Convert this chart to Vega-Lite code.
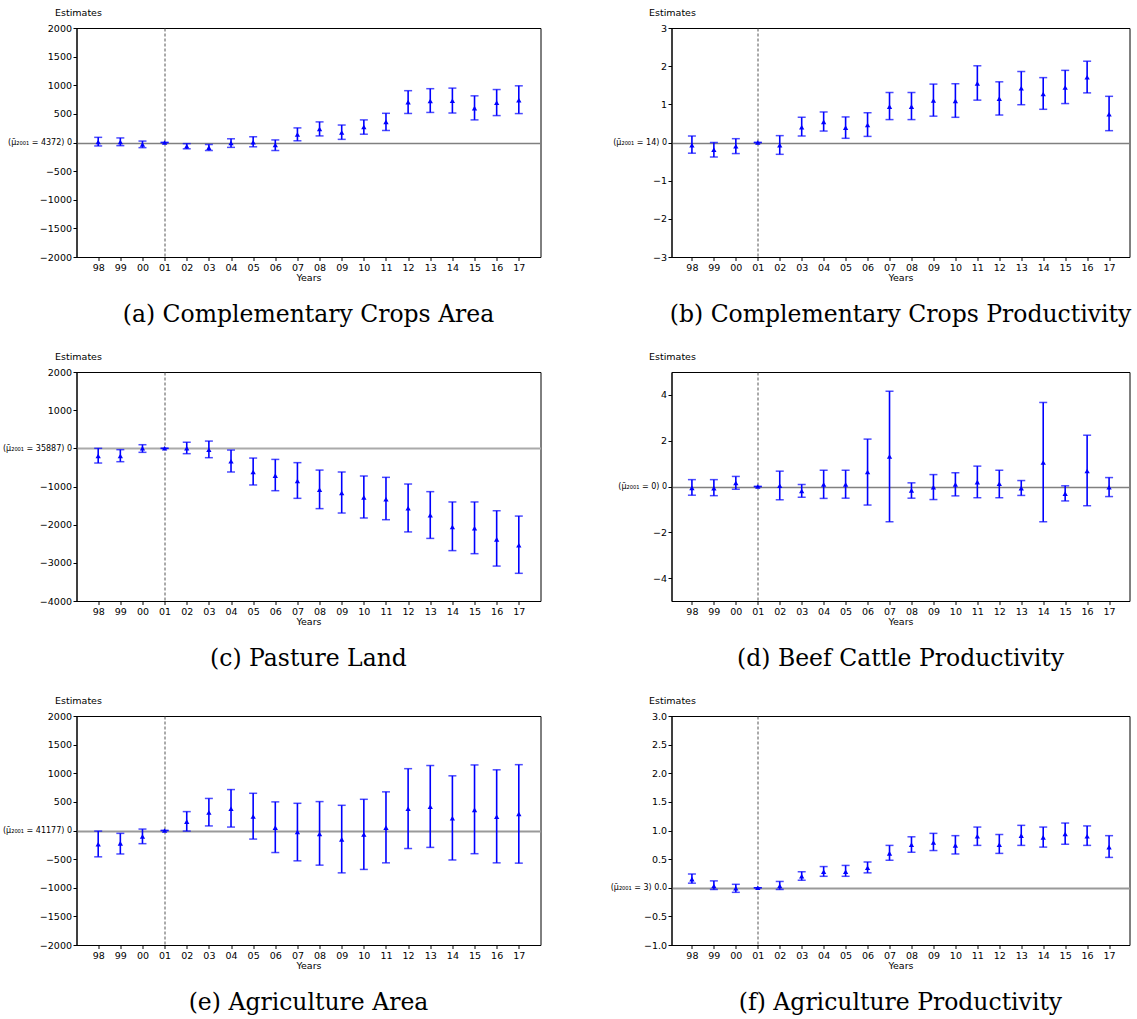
{
  "$schema": "https://vega.github.io/schema/vega-lite/v6.json",
  "padding": {"left": 1.5, "top": 6, "right": 0, "bottom": 0},
  "background": "white",
  "config": {
    "view": {"stroke": "black", "strokeWidth": 1},
    "axis": {"labelFont": "DejaVu Sans", "labelFontSize": 9.5, "labelColor": "black", "titleFont": "DejaVu Sans", "titleFontSize": 9.5, "titleFontWeight": "normal", "titleColor": "black", "domainColor": "black", "tickColor": "black", "tickSize": 3.5, "labelPadding": 1.5, "labelOverlap": false},
    "axisY": {"labelOverlap": false, "labelBound": false, "tickCount": 20},
    "title": {"font": "DejaVu Serif", "fontSize": 23.5, "fontWeight": "normal", "color": "black"}
  },
  "data": {"values": [
    {"p":"a","yr":"98","est":10,"lo":-60,"hi":90},
    {"p":"a","yr":"99","est":10,"lo":-55,"hi":80},
    {"p":"a","yr":"00","est":-35,"lo":-90,"hi":25},
    {"p":"a","yr":"01","est":0,"lo":0,"hi":0},
    {"p":"a","yr":"02","est":-65,"lo":-110,"hi":-20},
    {"p":"a","yr":"03","est":-90,"lo":-140,"hi":-35},
    {"p":"a","yr":"04","est":-10,"lo":-85,"hi":65},
    {"p":"a","yr":"05","est":5,"lo":-75,"hi":100},
    {"p":"a","yr":"06","est":-45,"lo":-140,"hi":45},
    {"p":"a","yr":"07","est":140,"lo":30,"hi":255},
    {"p":"a","yr":"08","est":235,"lo":115,"hi":360},
    {"p":"a","yr":"09","est":175,"lo":55,"hi":305},
    {"p":"a","yr":"10","est":270,"lo":145,"hi":395},
    {"p":"a","yr":"11","est":360,"lo":210,"hi":510},
    {"p":"a","yr":"12","est":705,"lo":507,"hi":905},
    {"p":"a","yr":"13","est":725,"lo":525,"hi":940},
    {"p":"a","yr":"14","est":730,"lo":515,"hi":950},
    {"p":"a","yr":"15","est":600,"lo":395,"hi":815},
    {"p":"a","yr":"16","est":695,"lo":470,"hi":925},
    {"p":"a","yr":"17","est":740,"lo":505,"hi":990},

    {"p":"b","yr":"98","est":-0.07,"lo":-0.28,"hi":0.17},
    {"p":"b","yr":"99","est":-0.19,"lo":-0.38,"hi":0.0},
    {"p":"b","yr":"00","est":-0.1,"lo":-0.29,"hi":0.1},
    {"p":"b","yr":"01","est":0,"lo":0,"hi":0},
    {"p":"b","yr":"02","est":-0.07,"lo":-0.31,"hi":0.18},
    {"p":"b","yr":"03","est":0.4,"lo":0.17,"hi":0.66},
    {"p":"b","yr":"04","est":0.54,"lo":0.3,"hi":0.8},
    {"p":"b","yr":"05","est":0.39,"lo":0.11,"hi":0.67},
    {"p":"b","yr":"06","est":0.46,"lo":0.16,"hi":0.78},
    {"p":"b","yr":"07","est":0.94,"lo":0.6,"hi":1.31},
    {"p":"b","yr":"08","est":0.94,"lo":0.6,"hi":1.31},
    {"p":"b","yr":"09","est":1.1,"lo":0.69,"hi":1.53},
    {"p":"b","yr":"10","est":1.09,"lo":0.66,"hi":1.54},
    {"p":"b","yr":"11","est":1.55,"lo":1.11,"hi":2.01},
    {"p":"b","yr":"12","est":1.15,"lo":0.72,"hi":1.59},
    {"p":"b","yr":"13","est":1.42,"lo":0.99,"hi":1.86},
    {"p":"b","yr":"14","est":1.27,"lo":0.87,"hi":1.7},
    {"p":"b","yr":"15","est":1.44,"lo":1.02,"hi":1.89},
    {"p":"b","yr":"16","est":1.71,"lo":1.3,"hi":2.13},
    {"p":"b","yr":"17","est":0.74,"lo":0.31,"hi":1.21},

    {"p":"c","yr":"98","est":-200,"lo":-385,"hi":0},
    {"p":"c","yr":"99","est":-200,"lo":-350,"hi":-35},
    {"p":"c","yr":"00","est":0,"lo":-105,"hi":95},
    {"p":"c","yr":"01","est":0,"lo":0,"hi":0},
    {"p":"c","yr":"02","est":0,"lo":-140,"hi":160},
    {"p":"c","yr":"03","est":-35,"lo":-245,"hi":190},
    {"p":"c","yr":"04","est":-340,"lo":-620,"hi":-45},
    {"p":"c","yr":"05","est":-620,"lo":-960,"hi":-255},
    {"p":"c","yr":"06","est":-715,"lo":-1110,"hi":-290},
    {"p":"c","yr":"07","est":-855,"lo":-1310,"hi":-375},
    {"p":"c","yr":"08","est":-1085,"lo":-1580,"hi":-570},
    {"p":"c","yr":"09","est":-1170,"lo":-1695,"hi":-620},
    {"p":"c","yr":"10","est":-1285,"lo":-1825,"hi":-725},
    {"p":"c","yr":"11","est":-1335,"lo":-1870,"hi":-760},
    {"p":"c","yr":"12","est":-1570,"lo":-2190,"hi":-935},
    {"p":"c","yr":"13","est":-1755,"lo":-2360,"hi":-1135},
    {"p":"c","yr":"14","est":-2060,"lo":-2680,"hi":-1405},
    {"p":"c","yr":"15","est":-2095,"lo":-2760,"hi":-1405},
    {"p":"c","yr":"16","est":-2385,"lo":-3085,"hi":-1635},
    {"p":"c","yr":"17","est":-2540,"lo":-3275,"hi":-1775},

    {"p":"d","yr":"98","est":-0.06,"lo":-0.38,"hi":0.3},
    {"p":"d","yr":"99","est":-0.07,"lo":-0.4,"hi":0.3},
    {"p":"d","yr":"00","est":0.15,"lo":-0.12,"hi":0.44},
    {"p":"d","yr":"01","est":0,"lo":0,"hi":0},
    {"p":"d","yr":"02","est":0.03,"lo":-0.58,"hi":0.67},
    {"p":"d","yr":"03","est":-0.2,"lo":-0.47,"hi":0.09},
    {"p":"d","yr":"04","est":0.09,"lo":-0.52,"hi":0.71},
    {"p":"d","yr":"05","est":0.09,"lo":-0.51,"hi":0.71},
    {"p":"d","yr":"06","est":0.63,"lo":-0.81,"hi":2.07},
    {"p":"d","yr":"07","est":1.31,"lo":-1.54,"hi":4.16},
    {"p":"d","yr":"08","est":-0.17,"lo":-0.51,"hi":0.16},
    {"p":"d","yr":"09","est":-0.03,"lo":-0.57,"hi":0.52},
    {"p":"d","yr":"10","est":0.09,"lo":-0.41,"hi":0.6},
    {"p":"d","yr":"11","est":0.19,"lo":-0.49,"hi":0.89},
    {"p":"d","yr":"12","est":0.12,"lo":-0.49,"hi":0.71},
    {"p":"d","yr":"13","est":-0.07,"lo":-0.39,"hi":0.26},
    {"p":"d","yr":"14","est":1.05,"lo":-1.54,"hi":3.67},
    {"p":"d","yr":"15","est":-0.31,"lo":-0.63,"hi":0.03},
    {"p":"d","yr":"16","est":0.68,"lo":-0.84,"hi":2.24},
    {"p":"d","yr":"17","est":-0.03,"lo":-0.44,"hi":0.39},

    {"p":"e","yr":"98","est":-240,"lo":-460,"hi":-10},
    {"p":"e","yr":"99","est":-225,"lo":-410,"hi":-50},
    {"p":"e","yr":"00","est":-105,"lo":-230,"hi":25},
    {"p":"e","yr":"01","est":0,"lo":0,"hi":0},
    {"p":"e","yr":"02","est":155,"lo":-10,"hi":330},
    {"p":"e","yr":"03","est":315,"lo":80,"hi":560},
    {"p":"e","yr":"04","est":380,"lo":60,"hi":715},
    {"p":"e","yr":"05","est":245,"lo":-150,"hi":650},
    {"p":"e","yr":"06","est":50,"lo":-385,"hi":500},
    {"p":"e","yr":"07","est":-25,"lo":-530,"hi":475},
    {"p":"e","yr":"08","est":-60,"lo":-605,"hi":505},
    {"p":"e","yr":"09","est":-155,"lo":-740,"hi":440},
    {"p":"e","yr":"10","est":-70,"lo":-680,"hi":545},
    {"p":"e","yr":"11","est":50,"lo":-565,"hi":675},
    {"p":"e","yr":"12","est":380,"lo":-315,"hi":1080},
    {"p":"e","yr":"13","est":415,"lo":-295,"hi":1135},
    {"p":"e","yr":"14","est":215,"lo":-515,"hi":955},
    {"p":"e","yr":"15","est":360,"lo":-405,"hi":1145},
    {"p":"e","yr":"16","est":240,"lo":-565,"hi":1060},
    {"p":"e","yr":"17","est":290,"lo":-570,"hi":1150},

    {"p":"f","yr":"98","est":0.15,"lo":0.08,"hi":0.24},
    {"p":"f","yr":"99","est":0.03,"lo":-0.03,"hi":0.12},
    {"p":"f","yr":"00","est":-0.01,"lo":-0.08,"hi":0.06},
    {"p":"f","yr":"01","est":0,"lo":0,"hi":0},
    {"p":"f","yr":"02","est":0.03,"lo":-0.03,"hi":0.11},
    {"p":"f","yr":"03","est":0.2,"lo":0.13,"hi":0.28},
    {"p":"f","yr":"04","est":0.28,"lo":0.2,"hi":0.37},
    {"p":"f","yr":"05","est":0.28,"lo":0.2,"hi":0.39},
    {"p":"f","yr":"06","est":0.35,"lo":0.26,"hi":0.45},
    {"p":"f","yr":"07","est":0.6,"lo":0.48,"hi":0.74},
    {"p":"f","yr":"08","est":0.75,"lo":0.62,"hi":0.89},
    {"p":"f","yr":"09","est":0.79,"lo":0.65,"hi":0.95},
    {"p":"f","yr":"10","est":0.74,"lo":0.59,"hi":0.91},
    {"p":"f","yr":"11","est":0.9,"lo":0.74,"hi":1.06},
    {"p":"f","yr":"12","est":0.75,"lo":0.6,"hi":0.93},
    {"p":"f","yr":"13","est":0.91,"lo":0.74,"hi":1.09},
    {"p":"f","yr":"14","est":0.88,"lo":0.71,"hi":1.06},
    {"p":"f","yr":"15","est":0.94,"lo":0.76,"hi":1.13},
    {"p":"f","yr":"16","est":0.9,"lo":0.74,"hi":1.08},
    {"p":"f","yr":"17","est":0.71,"lo":0.53,"hi":0.91}
  ]},
  "columns": 2,
  "spacing": {"row": 115, "column": 131},
  "bounds": "flush",
  "concat": [
      {
        "width": 464, "height": 229,
        "title": {"text": "(a) Complementary Crops Area", "orient": "bottom", "anchor": "middle", "offset": 21},
        "transform": [{"filter": "datum.p === 'a'"}],
        "encoding": {"x": {"field": "yr", "type": "ordinal", "scale": {"type": "point", "domain": ["98","99","00","01","02","03","04","05","06","07","08","09","10","11","12","13","14","15","16","17"], "padding": 0.98}, "axis": {"title": "Years", "labelAngle": 0, "titlePadding": 1, "grid": true, "gridColor": {"condition": {"test": "datum.value === '01'", "value": "#555555"}, "value": "transparent"}, "gridDash": [3, 2], "gridWidth": 1}}},
        "layer": [
          {"mark": {"type": "rule", "color": "blue", "strokeWidth": 1.6}, "encoding": {"y": {"field": "lo", "type": "quantitative", "scale": {"domain": [-2000, 2000], "nice": false, "zero": false}, "axis": {"title": "Estimates", "titleAngle": 0, "titleAlign": "left", "titleBaseline": "alphabetic", "titleX": -22, "titleY": -13, "values": [-2000,-1500,-1000,-500,0,500,1000,1500,2000], "tickCount": 20, "labelOverlap": false, "format": "d", "labelExpr": "datum.value === 0 ? '(μ̄₂₀₀₁ = 4372) 0' : datum.label", "labelFontSize": {"condition": {"test": "datum.value === 0", "value": 8}, "value": 9.5}, "grid": true, "gridColor": {"condition": {"test": "datum.value === 0", "value": "#808080"}, "value": "transparent"}, "gridWidth": 1.5}}, "y2": {"field": "hi"}}},
          {"mark": {"type": "tick", "color": "blue", "size": 8, "thickness": 1.5}, "encoding": {"y": {"field": "lo", "type": "quantitative", "scale": {"domain": [-2000, 2000], "nice": false, "zero": false}}}},
          {"mark": {"type": "tick", "color": "blue", "size": 8, "thickness": 1.5}, "encoding": {"y": {"field": "hi", "type": "quantitative", "scale": {"domain": [-2000, 2000], "nice": false, "zero": false}}}},
          {"mark": {"type": "point", "shape": "triangle-up", "filled": true, "color": "blue", "size": 28, "opacity": 1}, "encoding": {"y": {"field": "est", "type": "quantitative", "scale": {"domain": [-2000, 2000], "nice": false, "zero": false}}}}
        ]
      },
      {
        "width": 458, "height": 229,
        "title": {"text": "(b) Complementary Crops Productivity", "orient": "bottom", "anchor": "middle", "offset": 21},
        "transform": [{"filter": "datum.p === 'b'"}],
        "encoding": {"x": {"field": "yr", "type": "ordinal", "scale": {"type": "point", "domain": ["98","99","00","01","02","03","04","05","06","07","08","09","10","11","12","13","14","15","16","17"], "padding": 0.93}, "axis": {"title": "Years", "labelAngle": 0, "titlePadding": 1, "grid": true, "gridColor": {"condition": {"test": "datum.value === '01'", "value": "#555555"}, "value": "transparent"}, "gridDash": [3, 2], "gridWidth": 1}}},
        "layer": [
          {"mark": {"type": "rule", "color": "blue", "strokeWidth": 1.6}, "encoding": {"y": {"field": "lo", "type": "quantitative", "scale": {"domain": [-3, 3], "nice": false, "zero": false}, "axis": {"title": "Estimates", "titleAngle": 0, "titleAlign": "left", "titleBaseline": "alphabetic", "titleX": -23, "titleY": -13, "values": [-3,-2,-1,0,1,2,3], "tickCount": 20, "labelOverlap": false, "format": "d", "labelExpr": "datum.value === 0 ? '(μ̄₂₀₀₁ = 14) 0' : datum.label", "labelFontSize": {"condition": {"test": "datum.value === 0", "value": 8}, "value": 9.5}, "grid": true, "gridColor": {"condition": {"test": "datum.value === 0", "value": "#808080"}, "value": "transparent"}, "gridWidth": 1.5}}, "y2": {"field": "hi"}}},
          {"mark": {"type": "tick", "color": "blue", "size": 8, "thickness": 1.5}, "encoding": {"y": {"field": "lo", "type": "quantitative", "scale": {"domain": [-3, 3], "nice": false, "zero": false}}}},
          {"mark": {"type": "tick", "color": "blue", "size": 8, "thickness": 1.5}, "encoding": {"y": {"field": "hi", "type": "quantitative", "scale": {"domain": [-3, 3], "nice": false, "zero": false}}}},
          {"mark": {"type": "point", "shape": "triangle-up", "filled": true, "color": "blue", "size": 28, "opacity": 1}, "encoding": {"y": {"field": "est", "type": "quantitative", "scale": {"domain": [-3, 3], "nice": false, "zero": false}}}}
        ]
      },
      {
        "width": 464, "height": 229,
        "title": {"text": "(c) Pasture Land", "orient": "bottom", "anchor": "middle", "offset": 21},
        "transform": [{"filter": "datum.p === 'c'"}],
        "encoding": {"x": {"field": "yr", "type": "ordinal", "scale": {"type": "point", "domain": ["98","99","00","01","02","03","04","05","06","07","08","09","10","11","12","13","14","15","16","17"], "padding": 0.98}, "axis": {"title": "Years", "labelAngle": 0, "titlePadding": 1, "grid": true, "gridColor": {"condition": {"test": "datum.value === '01'", "value": "#555555"}, "value": "transparent"}, "gridDash": [3, 2], "gridWidth": 1}}},
        "layer": [
          {"mark": {"type": "rule", "color": "blue", "strokeWidth": 1.6}, "encoding": {"y": {"field": "lo", "type": "quantitative", "scale": {"domain": [-4000, 2000], "nice": false, "zero": false}, "axis": {"title": "Estimates", "titleAngle": 0, "titleAlign": "left", "titleBaseline": "alphabetic", "titleX": -22, "titleY": -13, "values": [-4000,-3000,-2000,-1000,0,1000,2000], "tickCount": 20, "labelOverlap": false, "format": "d", "labelExpr": "datum.value === 0 ? '(μ̄₂₀₀₁ = 35887) 0' : datum.label", "labelFontSize": {"condition": {"test": "datum.value === 0", "value": 8}, "value": 9.5}, "grid": true, "gridColor": {"condition": {"test": "datum.value === 0", "value": "#aaaaaa"}, "value": "transparent"}, "gridWidth": 2}}, "y2": {"field": "hi"}}},
          {"mark": {"type": "tick", "color": "blue", "size": 8, "thickness": 1.5}, "encoding": {"y": {"field": "lo", "type": "quantitative", "scale": {"domain": [-4000, 2000], "nice": false, "zero": false}}}},
          {"mark": {"type": "tick", "color": "blue", "size": 8, "thickness": 1.5}, "encoding": {"y": {"field": "hi", "type": "quantitative", "scale": {"domain": [-4000, 2000], "nice": false, "zero": false}}}},
          {"mark": {"type": "point", "shape": "triangle-up", "filled": true, "color": "blue", "size": 28, "opacity": 1}, "encoding": {"y": {"field": "est", "type": "quantitative", "scale": {"domain": [-4000, 2000], "nice": false, "zero": false}}}}
        ]
      },
      {
        "width": 458, "height": 229,
        "title": {"text": "(d) Beef Cattle Productivity", "orient": "bottom", "anchor": "middle", "offset": 21},
        "transform": [{"filter": "datum.p === 'd'"}],
        "encoding": {"x": {"field": "yr", "type": "ordinal", "scale": {"type": "point", "domain": ["98","99","00","01","02","03","04","05","06","07","08","09","10","11","12","13","14","15","16","17"], "padding": 0.93}, "axis": {"title": "Years", "labelAngle": 0, "titlePadding": 1, "grid": true, "gridColor": {"condition": {"test": "datum.value === '01'", "value": "#555555"}, "value": "transparent"}, "gridDash": [3, 2], "gridWidth": 1}}},
        "layer": [
          {"mark": {"type": "rule", "color": "blue", "strokeWidth": 1.6}, "encoding": {"y": {"field": "lo", "type": "quantitative", "scale": {"domain": [-5, 5], "nice": false, "zero": false}, "axis": {"title": "Estimates", "titleAngle": 0, "titleAlign": "left", "titleBaseline": "alphabetic", "titleX": -23, "titleY": -13, "values": [-4,-2,0,2,4], "tickCount": 20, "labelOverlap": false, "format": "d", "labelExpr": "datum.value === 0 ? '(μ̄₂₀₀₁ = 0) 0' : datum.label", "labelFontSize": {"condition": {"test": "datum.value === 0", "value": 8}, "value": 9.5}, "grid": true, "gridColor": {"condition": {"test": "datum.value === 0", "value": "#808080"}, "value": "transparent"}, "gridWidth": 1.5}}, "y2": {"field": "hi"}}},
          {"mark": {"type": "tick", "color": "blue", "size": 8, "thickness": 1.5}, "encoding": {"y": {"field": "lo", "type": "quantitative", "scale": {"domain": [-5, 5], "nice": false, "zero": false}}}},
          {"mark": {"type": "tick", "color": "blue", "size": 8, "thickness": 1.5}, "encoding": {"y": {"field": "hi", "type": "quantitative", "scale": {"domain": [-5, 5], "nice": false, "zero": false}}}},
          {"mark": {"type": "point", "shape": "triangle-up", "filled": true, "color": "blue", "size": 28, "opacity": 1}, "encoding": {"y": {"field": "est", "type": "quantitative", "scale": {"domain": [-5, 5], "nice": false, "zero": false}}}}
        ]
      },
      {
        "width": 464, "height": 229,
        "title": {"text": "(e) Agriculture Area", "orient": "bottom", "anchor": "middle", "offset": 21},
        "transform": [{"filter": "datum.p === 'e'"}],
        "encoding": {"x": {"field": "yr", "type": "ordinal", "scale": {"type": "point", "domain": ["98","99","00","01","02","03","04","05","06","07","08","09","10","11","12","13","14","15","16","17"], "padding": 0.98}, "axis": {"title": "Years", "labelAngle": 0, "titlePadding": 1, "grid": true, "gridColor": {"condition": {"test": "datum.value === '01'", "value": "#555555"}, "value": "transparent"}, "gridDash": [3, 2], "gridWidth": 1}}},
        "layer": [
          {"mark": {"type": "rule", "color": "blue", "strokeWidth": 1.6}, "encoding": {"y": {"field": "lo", "type": "quantitative", "scale": {"domain": [-2000, 2000], "nice": false, "zero": false}, "axis": {"title": "Estimates", "titleAngle": 0, "titleAlign": "left", "titleBaseline": "alphabetic", "titleX": -22, "titleY": -13, "values": [-2000,-1500,-1000,-500,0,500,1000,1500,2000], "tickCount": 20, "labelOverlap": false, "format": "d", "labelExpr": "datum.value === 0 ? '(μ̄₂₀₀₁ = 41177) 0' : datum.label", "labelFontSize": {"condition": {"test": "datum.value === 0", "value": 8}, "value": 9.5}, "grid": true, "gridColor": {"condition": {"test": "datum.value === 0", "value": "#999999"}, "value": "transparent"}, "gridWidth": 2}}, "y2": {"field": "hi"}}},
          {"mark": {"type": "tick", "color": "blue", "size": 8, "thickness": 1.5}, "encoding": {"y": {"field": "lo", "type": "quantitative", "scale": {"domain": [-2000, 2000], "nice": false, "zero": false}}}},
          {"mark": {"type": "tick", "color": "blue", "size": 8, "thickness": 1.5}, "encoding": {"y": {"field": "hi", "type": "quantitative", "scale": {"domain": [-2000, 2000], "nice": false, "zero": false}}}},
          {"mark": {"type": "point", "shape": "triangle-up", "filled": true, "color": "blue", "size": 28, "opacity": 1}, "encoding": {"y": {"field": "est", "type": "quantitative", "scale": {"domain": [-2000, 2000], "nice": false, "zero": false}}}}
        ]
      },
      {
        "width": 458, "height": 229,
        "title": {"text": "(f) Agriculture Productivity", "orient": "bottom", "anchor": "middle", "offset": 21},
        "transform": [{"filter": "datum.p === 'f'"}],
        "encoding": {"x": {"field": "yr", "type": "ordinal", "scale": {"type": "point", "domain": ["98","99","00","01","02","03","04","05","06","07","08","09","10","11","12","13","14","15","16","17"], "padding": 0.93}, "axis": {"title": "Years", "labelAngle": 0, "titlePadding": 1, "grid": true, "gridColor": {"condition": {"test": "datum.value === '01'", "value": "#555555"}, "value": "transparent"}, "gridDash": [3, 2], "gridWidth": 1}}},
        "layer": [
          {"mark": {"type": "rule", "color": "blue", "strokeWidth": 1.6}, "encoding": {"y": {"field": "lo", "type": "quantitative", "scale": {"domain": [-1, 3], "nice": false, "zero": false}, "axis": {"title": "Estimates", "titleAngle": 0, "titleAlign": "left", "titleBaseline": "alphabetic", "titleX": -23, "titleY": -13, "values": [-1,-0.5,0,0.5,1,1.5,2,2.5,3], "tickCount": 20, "labelOverlap": false, "format": ".1f", "labelExpr": "datum.value === 0 ? '(μ̄₂₀₀₁ = 3) 0.0' : datum.label", "labelFontSize": {"condition": {"test": "datum.value === 0", "value": 8}, "value": 9.5}, "grid": true, "gridColor": {"condition": {"test": "datum.value === 0", "value": "#999999"}, "value": "transparent"}, "gridWidth": 2}}, "y2": {"field": "hi"}}},
          {"mark": {"type": "tick", "color": "blue", "size": 8, "thickness": 1.5}, "encoding": {"y": {"field": "lo", "type": "quantitative", "scale": {"domain": [-1, 3], "nice": false, "zero": false}}}},
          {"mark": {"type": "tick", "color": "blue", "size": 8, "thickness": 1.5}, "encoding": {"y": {"field": "hi", "type": "quantitative", "scale": {"domain": [-1, 3], "nice": false, "zero": false}}}},
          {"mark": {"type": "point", "shape": "triangle-up", "filled": true, "color": "blue", "size": 28, "opacity": 1}, "encoding": {"y": {"field": "est", "type": "quantitative", "scale": {"domain": [-1, 3], "nice": false, "zero": false}}}}
        ]
      }
  ]
}
